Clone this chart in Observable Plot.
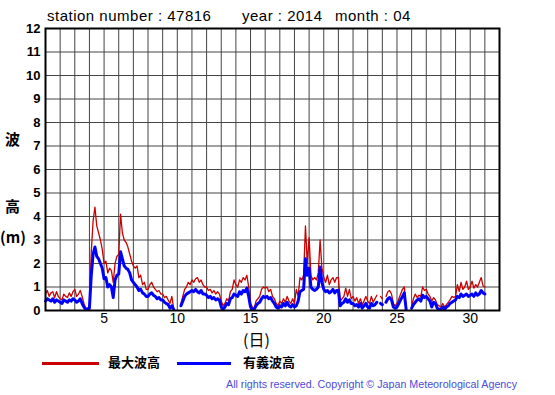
<!DOCTYPE html>
<html>
<head>
<meta charset="utf-8">
<script src="https://cdn.jsdelivr.net/npm/d3@7"></script>
<script src="https://cdn.jsdelivr.net/npm/@observablehq/plot@0.6"></script>
<style>
  html, body { margin: 0; padding: 0; background: #fff; }
  #page { position: relative; width: 555px; height: 395px; overflow: hidden; font-family: "Liberation Sans", Arial, Helvetica, sans-serif; }
  #chart { position: absolute; left: 0; top: 0; }
  .abs { position: absolute; white-space: nowrap; line-height: 1; }
  .ttl { font-size: 15px; letter-spacing: 0.5px; color: #000; top: 8px; }
  .ylab { font-family: "Noto Sans CJK JP", sans-serif; font-weight: bold; font-size: 15px; color: #000; }
  .leg { font-family: "Noto Sans CJK JP", sans-serif; font-weight: bold; font-size: 13px; color: #000; top: 355px; }
  .bar { position: absolute; height: 3px; top: 361.5px; }
</style>
</head>
<body>
<div id="page">
  <div id="chart"></div>
  <div class="abs ttl" style="left:47px">station number : 47816</div>
  <div class="abs ttl" style="left:242px">year : 2014</div>
  <div class="abs ttl" style="left:335px">month : 04</div>
  <div class="abs ylab" style="left:5px;top:131px">波</div>
  <div class="abs ylab" style="left:5px;top:198px">高</div>
  <div class="abs ylab" style="left:0px;top:229px">(m)</div>
  <div class="abs ylab" style="left:243px;top:331px;font-weight:normal;font-size:16px">(日)</div>
  <div class="bar" style="left:42px;width:57px;background:#cc0000"></div>
  <div class="abs leg" style="left:108px">最大波高</div>
  <div class="bar" style="left:177px;width:54px;background:#0000ff"></div>
  <div class="abs leg" style="left:243px">有義波高</div>
  <svg class="abs" style="left:0;top:370px" width="555" height="25">
    <text x="226" y="18" textLength="291" lengthAdjust="spacingAndGlyphs" font-family="Liberation Sans, Arial, sans-serif" font-size="10" fill="#4b4bd8">All rights reserved. Copyright © Japan Meteorological Agency</text>
  </svg>
</div>
<script>
// Time axis: 3-hourly readings from 1 April 00:00 to 1 May 00:00 (day 31.0)
const startDay = 1;
const stepsPerDay = 8;

// 最大波高 (maximum wave height, m), one row per day
const maxWave = [
  0.7,0.85,0.6,0.75,0.8,0.55,0.8,0.6,
  0.5,0.45,0.7,0.6,0.55,0.75,0.6,0.8,
  0.9,0.6,0.7,0.85,0.6,0.3,0.1,0.1,
  0.2,2.5,3.8,4.4,3.6,3.3,3.0,2.6,
  2.0,2.1,1.6,1.8,1.7,1.2,2.0,2.3,
  2.4,4.1,3.3,3.0,2.9,2.7,2.4,2.1,
  1.9,1.8,1.9,1.4,1.5,1.1,1.2,0.9,
  0.9,1.1,1.2,1.0,0.9,0.8,0.85,0.7,
  0.7,0.55,0.6,0.45,0.3,0.6,0.1,null,
  null,null,0.3,0.6,0.9,1.0,1.2,1.1,
  1.3,1.2,1.35,1.4,1.2,1.3,1.1,1.0,
  1.0,0.85,0.9,0.75,0.85,0.7,0.8,0.7,
  0.4,0.2,0.3,0.5,0.4,0.8,0.9,1.3,
  1.1,1.0,1.3,1.2,1.4,1.3,1.5,1.0,
  0.3,0.15,0.1,0.4,0.5,0.6,0.9,1.0,
  0.95,1.0,0.8,0.9,0.6,0.5,0.3,0.2,
  0.4,0.3,0.5,0.35,0.6,0.4,0.3,0.5,
  0.3,0.9,0.6,1.4,1.3,1.5,3.6,2.0,
  3.1,1.5,1.3,1.4,1.3,1.6,3.0,1.8,
  1.4,1.2,1.5,1.1,1.3,1.4,1.2,1.4,
  1.4,0.4,0.5,0.6,0.95,0.6,0.9,0.5,
  0.6,0.4,0.55,0.3,0.5,0.25,0.4,0.6,
  0.4,0.3,0.6,0.35,0.5,0.65,null,0.6,
  0.5,null,0.6,0.8,0.85,0.7,0.3,0.2,
  0.3,0.5,0.7,0.9,1.0,0.1,null,null,
  0.2,0.5,0.7,0.55,0.65,0.6,1.0,0.85,
  0.9,0.7,0.6,0.4,0.55,0.45,0.25,0.2,
  0.15,0.3,0.15,0.25,0.35,0.45,0.6,0.55,
  0.6,1.1,0.8,1.2,0.9,1.0,1.25,0.9,
  1.0,1.25,0.95,1.1,1.0,1.2,1.4,1.05,
  1.0
];

// 有義波高 (significant wave height, m), one row per day
const sigWave = [
  0.4,0.5,0.45,0.4,0.5,0.35,0.45,0.4,
  0.35,0.3,0.45,0.4,0.35,0.45,0.4,0.5,
  0.45,0.35,0.4,0.5,0.3,0.15,0.05,0.05,
  0.1,1.5,2.4,2.7,2.3,2.2,2.0,1.8,
  1.35,1.4,1.0,1.1,1.0,0.55,1.3,1.5,
  1.55,2.5,2.2,1.9,1.8,1.75,1.6,1.3,
  1.2,1.1,1.0,0.85,0.9,0.75,0.7,0.6,
  0.6,0.7,0.75,0.65,0.6,0.5,0.55,0.45,
  0.45,0.35,0.3,0.25,0.1,0.2,0.05,null,
  null,null,0.2,0.4,0.6,0.7,0.75,0.8,
  0.85,0.8,0.9,0.8,0.75,0.85,0.7,0.7,
  0.65,0.55,0.6,0.5,0.55,0.45,0.5,0.45,
  0.15,0.05,0.15,0.3,0.25,0.5,0.55,0.7,
  0.65,0.6,0.8,0.7,0.85,0.8,0.95,0.6,
  0.15,0.05,0.05,0.2,0.3,0.35,0.5,0.6,
  0.55,0.6,0.5,0.55,0.4,0.3,0.15,0.1,
  0.2,0.15,0.3,0.2,0.35,0.2,0.15,0.25,
  0.15,0.2,0.4,0.8,0.85,0.9,2.2,1.5,
  1.8,1.0,0.9,0.85,0.9,1.0,1.85,1.2,
  0.9,0.8,0.85,0.75,0.8,0.9,0.75,0.85,
  0.85,0.2,0.3,0.35,0.5,0.35,0.45,0.3,
  0.3,0.2,0.25,0.15,0.3,0.1,0.2,0.3,
  0.15,0.1,0.3,0.2,0.25,0.35,null,0.3,
  0.25,null,0.35,0.5,0.55,0.45,0.15,0.1,
  0.15,0.3,0.45,0.6,0.75,0.05,null,null,
  0.1,0.25,0.35,0.45,0.5,0.4,0.65,0.55,
  0.6,0.5,0.4,0.15,0.35,0.3,0.1,0.05,
  0.05,0.15,0.05,0.15,0.2,0.3,0.35,0.4,
  0.45,0.6,0.55,0.7,0.6,0.65,0.7,0.6,
  0.65,0.7,0.6,0.75,0.65,0.7,0.85,0.75,
  0.7
];

const xTickLabels = [5, 10, 15, 20, 25, 30];
const yTickLabels = [0,1,2,3,4,5,6,7,8,9,10,11,12];
const dayGrid = d3.range(1, 33);

const rows = maxWave.map((m, i) => ({
  t: startDay + i / stepsPerDay,
  max: m,
  sig: sigWave[i]
}));

const chart = Plot.plot({
  width: 555,
  height: 350,
  marginTop: 28,
  marginBottom: 40,
  marginLeft: 45,
  marginRight: 56,
  style: { fontFamily: "Liberation Sans, Arial, Helvetica, sans-serif", background: "transparent", overflow: "visible" },
  x: { domain: [1, 32] },
  y: { domain: [0, 12] },
  marks: [
    Plot.gridX(dayGrid, { stroke: "#444", strokeOpacity: 1, strokeWidth: 1 }),
    Plot.gridY(yTickLabels, { stroke: "#444", strokeOpacity: 1, strokeWidth: 1 }),
    Plot.line(rows, { x: "t", y: "max", stroke: "#cc0000", strokeWidth: 1.3 }),
    Plot.line(rows, { x: "t", y: "sig", stroke: "#0000ff", strokeWidth: 3 }),
    Plot.frame({ stroke: "#000", strokeWidth: 2 }),
    Plot.axisY(yTickLabels, { tickSize: 0, tickPadding: 5, fontSize: 13, fontWeight: "bold", label: null, tickFormat: d => String(d) }),
    Plot.axisX(xTickLabels, { tickSize: 0, tickPadding: 3, fontSize: 14, label: null, tickFormat: d => String(d) })
  ]
});
document.getElementById("chart").appendChild(chart);
</script>
</body>
</html>
